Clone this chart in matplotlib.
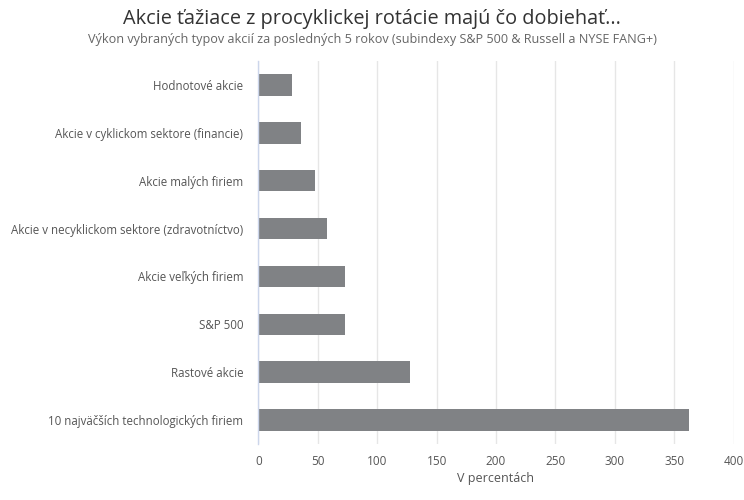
import matplotlib
matplotlib.use("Agg")
import matplotlib.pyplot as plt

categories = [
    "Hodnotové akcie",
    "Akcie v cyklickom sektore (financie)",
    "Akcie malých firiem",
    "Akcie v necyklickom sektore (zdravotníctvo)",
    "Akcie veľkých firiem",
    "S&P 500",
    "Rastové akcie",
    "10 najväčších technologických firiem",
]
values = [28, 36, 47.5, 57.5, 72.7, 72.7, 127.3, 362.6]
xticks = [0, 50, 100, 150, 200, 250, 300, 350, 400]

plt.rcParams['font.family'] = ['Open Sans', 'DejaVu Sans']
fig = plt.figure(figsize=(7.44, 5.0), dpi=100)
ax = fig.add_axes([0.3474, 0.112, 0.6385, 0.766])

ypos = list(range(len(categories)))
ax.barh(ypos, values, height=0.45, color="#808285", zorder=3)
ax.set_ylim(len(categories) - 0.5, -0.5)
ax.set_yticks(ypos)
ax.set_yticklabels(categories, fontsize=8.3, color="#555555")
ax.set_xlim(0, 400)
ax.set_xticks(xticks)
ax.set_xticklabels([str(t) for t in xticks], fontsize=8.5, color="#555555")
ax.tick_params(axis="both", length=0, pad=8)
ax.tick_params(axis="y", pad=11)
ax.grid(axis="x", color="#e6e6e6", linewidth=1, zorder=0)
for s in ["top", "right", "bottom"]:
    ax.spines[s].set_visible(False)
ax.spines["left"].set_color("#ccd6eb")
ax.spines["left"].set_linewidth(1)
ax.spines["left"].set_zorder(4)
ax.set_xlabel("V percentách", fontsize=9, color="#555555", labelpad=3)

fig.text(0.5, 1 - 19 / 500, "Akcie ťažiace z procyklickej rotácie majú čo dobiehať...",
         ha="center", va="center", fontsize=14.3, color="#333333")
fig.text(0.5, 1 - 40 / 500,
         "Výkon vybraných typov akcií za posledných 5 rokov (subindexy S&P 500 & Russell a NYSE FANG+)",
         ha="center", va="center", fontsize=9.1, color="#666666")

fig.savefig("out.png", dpi=100)
